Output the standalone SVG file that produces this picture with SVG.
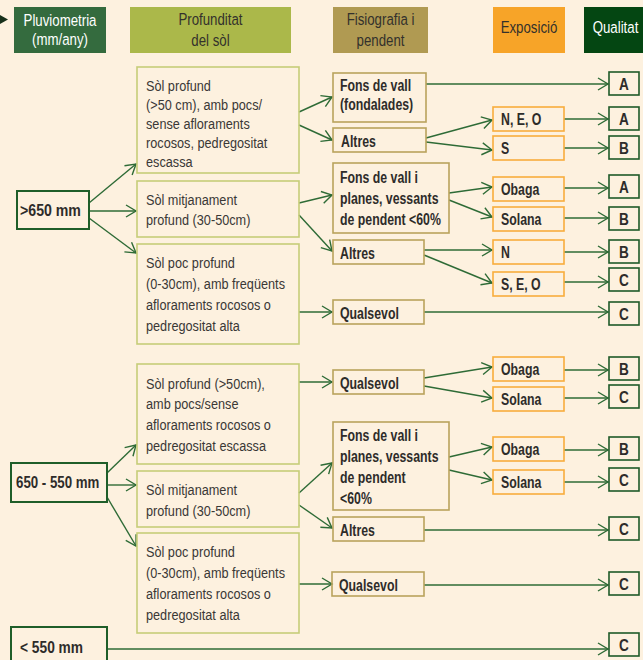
<svg xmlns="http://www.w3.org/2000/svg" width="643" height="660" viewBox="0 0 643 660">
<style>
.hd{font-family:"Liberation Sans",Arial,sans-serif;font-size:17px;text-anchor:middle}
.t{font-family:"Liberation Sans",Arial,sans-serif;font-size:15.5px;fill:#3a3836}
.b{font-family:"Liberation Sans",Arial,sans-serif;font-size:16px;font-weight:bold;fill:#2e2c2a}
.q{font-family:"Liberation Sans",Arial,sans-serif;font-size:17px;font-weight:bold;fill:#2e2c2a;text-anchor:middle}
.rain{fill:none;stroke:#1f5e29;stroke-width:2}
.soil{fill:none;stroke:#c6cd78;stroke-width:1.6}
.fis{fill:none;stroke:#b9a35c;stroke-width:1.6}
.exp{fill:none;stroke:#f8ad3c;stroke-width:1.6}
.qual{fill:none;stroke:#1f5a29;stroke-width:1.6}
.c path{fill:none;stroke:#2e6b36;stroke-width:1.4;marker-end:url(#ah)}
</style>
<defs>
<marker id="ah" markerUnits="userSpaceOnUse" markerWidth="12" markerHeight="14" refX="10" refY="6" orient="auto" overflow="visible">
<path d="M0,0 L10,6 L0,12" fill="none" stroke="#2e6b36" stroke-width="1.4"/>
</marker>
</defs>
<rect x="0" y="0" width="643" height="660" fill="#fdf1df"/>

<g id="header">
<polygon points="0,15 8,19.5 0,24" fill="#17301a"/>
<rect x="14" y="7" width="92" height="46" fill="#346b3e"/>
<text class="hd" fill="#ffffff" transform="translate(60 26) scale(0.78 1)"><tspan x="0" y="0">Pluviometria</tspan><tspan x="0" y="19">(mm/any)</tspan></text>
<rect x="130" y="7" width="161" height="46" fill="#abb84a"/>
<text class="hd" fill="#33312c" transform="translate(210.5 25) scale(0.78 1)"><tspan x="0" y="0">Profunditat</tspan><tspan x="0" y="21">del sòl</tspan></text>
<rect x="333" y="7" width="95" height="46" fill="#b09a52"/>
<text class="hd" fill="#33312c" transform="translate(380.5 25) scale(0.78 1)"><tspan x="0" y="0">Fisiografia i</tspan><tspan x="0" y="21">pendent</tspan></text>
<rect x="493" y="7" width="72" height="46" fill="#f7a428"/>
<text class="hd" fill="#33312c" transform="translate(529 33) scale(0.78 1)">Exposició</text>
<rect x="584" y="7" width="70" height="46" fill="#044612"/>
<text class="hd" fill="#ffffff" transform="translate(615.5 33) scale(0.78 1)">Qualitat</text>
</g>

<g class="c" id="connectors">
<path d="M89,203 L136,164"/>
<path d="M89,211 L136,211"/>
<path d="M89,218 L136,253"/>
<path d="M299,112 L332,97"/>
<path d="M299,125 L332,140"/>
<path d="M426,84 L608,84"/>
<path d="M426,138 L492,120"/>
<path d="M426,142 L492,150"/>
<path d="M564,119 L608,119"/>
<path d="M564,148 L608,148"/>
<path d="M299,203 L332,195"/>
<path d="M299,215 L332,251"/>
<path d="M449,193 L492,187"/>
<path d="M449,200 L492,217"/>
<path d="M564,188 L608,188"/>
<path d="M564,218 L608,218"/>
<path d="M424,250 L492,250"/>
<path d="M424,255 L492,283"/>
<path d="M564,252 L608,252"/>
<path d="M564,282 L608,282"/>
<path d="M299,312 L332,312"/>
<path d="M424,312 L608,312"/>
<path d="M299,382 L332,382"/>
<path d="M424,378 L492,367"/>
<path d="M424,386 L492,398"/>
<path d="M564,370 L608,370"/>
<path d="M564,398 L608,398"/>
<path d="M107,473 L136,445"/>
<path d="M107,485 L136,485"/>
<path d="M107,497 L136,546"/>
<path d="M299,493 L332,463"/>
<path d="M299,505 L332,528"/>
<path d="M449,457 L492,447"/>
<path d="M449,470 L492,480"/>
<path d="M564,450 L608,450"/>
<path d="M564,482 L608,482"/>
<path d="M424,530 L608,530"/>
<path d="M299,584 L332,584"/>
<path d="M424,585 L608,585"/>
<path d="M107,649 L608,649"/>
</g>

<g id="r1"><rect class="rain" x="17" y="191" width="72" height="38"/><text class="b" transform="translate(20 216) scale(0.885 1)">&gt;650 mm</text></g>
<g id="r2"><rect class="rain" x="11" y="463" width="96" height="39"/><text class="b" transform="translate(16 488) scale(0.83 1)">650 - 550 mm</text></g>
<g id="r3"><rect class="rain" x="11" y="627" width="96" height="40"/><text class="b" transform="translate(20 653) scale(0.86 1)">&lt; 550 mm</text></g>

<g id="s1"><rect class="soil" x="137" y="67" width="162" height="106"/><text class="t" transform="translate(146 91) scale(0.82 1)"><tspan x="0" y="0">Sòl profund</tspan><tspan x="0" y="19">(&gt;50 cm), amb pocs/</tspan><tspan x="0" y="38">sense afloraments</tspan><tspan x="0" y="57">rocosos, pedregositat</tspan><tspan x="0" y="76">escassa</tspan></text></g>
<g id="s2"><rect class="soil" x="137" y="181" width="162" height="56"/><text class="t" transform="translate(146 205) scale(0.82 1)"><tspan x="0" y="0">Sòl mitjanament</tspan><tspan x="0" y="20">profund (30-50cm)</tspan></text></g>
<g id="s3"><rect class="soil" x="137" y="244" width="162" height="100"/><text class="t" transform="translate(146 268) scale(0.82 1)"><tspan x="0" y="0">Sòl poc profund</tspan><tspan x="0" y="21">(0-30cm), amb freqüents</tspan><tspan x="0" y="42">afloraments rocosos o</tspan><tspan x="0" y="63">pedregositat alta</tspan></text></g>
<g id="s4"><rect class="soil" x="137" y="364" width="162" height="100"/><text class="t" transform="translate(146 389) scale(0.82 1)"><tspan x="0" y="0">Sòl profund (&gt;50cm),</tspan><tspan x="0" y="20.5">amb pocs/sense</tspan><tspan x="0" y="41">afloraments rocosos o</tspan><tspan x="0" y="62">pedregositat escassa</tspan></text></g>
<g id="s5"><rect class="soil" x="137" y="471" width="162" height="56"/><text class="t" transform="translate(146 495) scale(0.82 1)"><tspan x="0" y="0">Sòl mitjanament</tspan><tspan x="0" y="21">profund (30-50cm)</tspan></text></g>
<g id="s6"><rect class="soil" x="137" y="533" width="162" height="100"/><text class="t" transform="translate(146 557) scale(0.82 1)"><tspan x="0" y="0">Sòl poc profund</tspan><tspan x="0" y="21">(0-30cm), amb freqüents</tspan><tspan x="0" y="42">afloraments rocosos o</tspan><tspan x="0" y="63">pedregositat alta</tspan></text></g>

<g id="f1"><rect class="fis" x="333" y="73" width="93" height="49"/><text class="b" transform="translate(340 91) scale(0.77 1)"><tspan x="0" y="0">Fons de vall</tspan><tspan x="0" y="19">(fondalades)</tspan></text></g>
<g id="f2"><rect class="fis" x="333" y="128" width="93" height="24"/><text class="b" transform="translate(341 147) scale(0.77 1)">Altres</text></g>
<g id="f3"><rect class="fis" x="333" y="163" width="116" height="70"/><text class="b" transform="translate(340 183) scale(0.77 1)"><tspan x="0" y="0">Fons de vall i</tspan><tspan x="0" y="21">planes, vessants</tspan><tspan x="0" y="42">de pendent &lt;60%</tspan></text></g>
<g id="f4"><rect class="fis" x="333" y="240" width="91" height="24"/><text class="b" transform="translate(340 259) scale(0.77 1)">Altres</text></g>
<g id="f5"><rect class="fis" x="333" y="300" width="91" height="24"/><text class="b" transform="translate(340 319) scale(0.77 1)">Qualsevol</text></g>
<g id="f6"><rect class="fis" x="333" y="370" width="91" height="24"/><text class="b" transform="translate(340 389) scale(0.77 1)">Qualsevol</text></g>
<g id="f7"><rect class="fis" x="333" y="422" width="116" height="88"/><text class="b" transform="translate(340 441) scale(0.77 1)"><tspan x="0" y="0">Fons de vall i</tspan><tspan x="0" y="21">planes, vessants</tspan><tspan x="0" y="42">de pendent</tspan><tspan x="0" y="63">&lt;60%</tspan></text></g>
<g id="f8"><rect class="fis" x="333" y="517" width="91" height="24"/><text class="b" transform="translate(340 536) scale(0.77 1)">Altres</text></g>
<g id="f9"><rect class="fis" x="332" y="572" width="92" height="24"/><text class="b" transform="translate(339 591) scale(0.77 1)">Qualsevol</text></g>

<g id="e1"><rect class="exp" x="493" y="107" width="71" height="24"/><text class="b" transform="translate(501 125) scale(0.77 1)">N, E, O</text></g>
<g id="e2"><rect class="exp" x="493" y="136" width="71" height="24"/><text class="b" transform="translate(501 154) scale(0.77 1)">S</text></g>
<g id="e3"><rect class="exp" x="493" y="177" width="71" height="24"/><text class="b" transform="translate(501 195) scale(0.77 1)">Obaga</text></g>
<g id="e4"><rect class="exp" x="493" y="207" width="71" height="24"/><text class="b" transform="translate(501 225) scale(0.77 1)">Solana</text></g>
<g id="e5"><rect class="exp" x="493" y="240" width="71" height="24"/><text class="b" transform="translate(501 258) scale(0.77 1)">N</text></g>
<g id="e6"><rect class="exp" x="493" y="272" width="71" height="24"/><text class="b" transform="translate(501 290) scale(0.77 1)">S, E, O</text></g>
<g id="e7"><rect class="exp" x="493" y="357" width="71" height="24"/><text class="b" transform="translate(501 375) scale(0.77 1)">Obaga</text></g>
<g id="e8"><rect class="exp" x="493" y="387" width="71" height="24"/><text class="b" transform="translate(501 405) scale(0.77 1)">Solana</text></g>
<g id="e9"><rect class="exp" x="493" y="437" width="71" height="24"/><text class="b" transform="translate(501 455) scale(0.77 1)">Obaga</text></g>
<g id="e10"><rect class="exp" x="493" y="470" width="71" height="24"/><text class="b" transform="translate(501 488) scale(0.77 1)">Solana</text></g>

<g id="q1"><rect class="qual" x="609" y="72" width="30" height="23"/><text class="q" transform="translate(624 90) scale(0.8 1)">A</text></g>
<g id="q2"><rect class="qual" x="609" y="107" width="30" height="23"/><text class="q" transform="translate(624 125) scale(0.8 1)">A</text></g>
<g id="q3"><rect class="qual" x="609" y="136" width="30" height="23"/><text class="q" transform="translate(624 154) scale(0.8 1)">B</text></g>
<g id="q4"><rect class="qual" x="609" y="175" width="30" height="23"/><text class="q" transform="translate(624 193) scale(0.8 1)">A</text></g>
<g id="q5"><rect class="qual" x="609" y="207" width="30" height="23"/><text class="q" transform="translate(624 225) scale(0.8 1)">B</text></g>
<g id="q6"><rect class="qual" x="609" y="240" width="30" height="23"/><text class="q" transform="translate(624 258) scale(0.8 1)">B</text></g>
<g id="q7"><rect class="qual" x="609" y="268" width="30" height="23"/><text class="q" transform="translate(624 286) scale(0.8 1)">C</text></g>
<g id="q8"><rect class="qual" x="609" y="302" width="30" height="23"/><text class="q" transform="translate(624 320) scale(0.8 1)">C</text></g>
<g id="q9"><rect class="qual" x="609" y="357" width="30" height="23"/><text class="q" transform="translate(624 375) scale(0.8 1)">B</text></g>
<g id="q10"><rect class="qual" x="609" y="385" width="30" height="23"/><text class="q" transform="translate(624 403) scale(0.8 1)">C</text></g>
<g id="q11"><rect class="qual" x="609" y="437" width="30" height="23"/><text class="q" transform="translate(624 455) scale(0.8 1)">B</text></g>
<g id="q12"><rect class="qual" x="609" y="468" width="30" height="23"/><text class="q" transform="translate(624 486) scale(0.8 1)">C</text></g>
<g id="q13"><rect class="qual" x="609" y="517" width="30" height="23"/><text class="q" transform="translate(624 535) scale(0.8 1)">C</text></g>
<g id="q14"><rect class="qual" x="609" y="572" width="30" height="23"/><text class="q" transform="translate(624 590) scale(0.8 1)">C</text></g>
<g id="q15"><rect class="qual" x="609" y="633" width="30" height="23"/><text class="q" transform="translate(624 651) scale(0.8 1)">C</text></g>
</svg>
